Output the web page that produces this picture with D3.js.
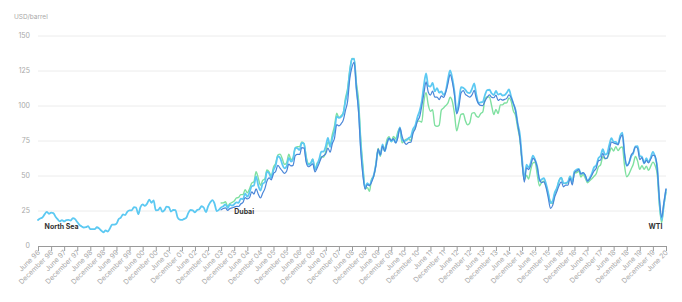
<!DOCTYPE html>
<html><head><meta charset="utf-8">
<script src="https://cdn.jsdelivr.net/npm/d3@7"></script>
<style>
html,body{margin:0;padding:0;background:#fff;}
svg{display:block;font-family:Inter,"Open Sans",sans-serif;}
</style></head><body>
<svg id="chart" width="682" height="302"></svg>
<script>
// Monthly averages, USD/barrel
const northSeaStart = "1996-06";
const northSea = [
18.6,19.7,20.3,22.6,24.4,23.0,23.8,
23.5,20.9,19.2,17.6,18.5,17.6,18.5,18.6,18.2,19.9,19.2,17.1,
15.1,14.0,13.2,13.4,14.2,12.1,12.0,12.0,13.4,12.6,11.0,9.8,
11.1,10.3,12.5,15.2,15.3,15.9,19.1,20.3,22.5,22.1,24.6,25.5,
25.5,27.8,27.5,22.7,27.7,29.8,28.7,30.2,33.1,30.9,32.5,25.5,
25.6,27.5,24.5,25.6,28.1,27.8,24.6,25.8,25.7,20.5,18.9,18.6,
19.4,20.3,23.7,25.7,25.4,24.1,25.7,26.3,28.4,27.5,24.2,28.3,
31.2,32.8,30.3,25.0,25.8,27.6,28.4,29.8,27.1,29.6,28.8,29.8,
31.2,30.9,33.8,33.4,37.6,35.2,38.2,42.7,43.2,49.8,43.1,39.6,
44.5,45.5,53.1,51.9,48.7,54.3,57.5,64.1,62.9,58.5,55.5,56.8,
63.0,60.2,62.1,70.3,69.8,68.6,73.7,73.2,62.0,58.0,58.8,62.0,
54.5,58.0,62.1,67.4,67.5,71.3,77.2,70.8,77.1,82.3,92.5,91.5,
92.2,94.8,103.3,110.4,124.6,133.5,133.9,113.0,98.1,72.3,53.2,41.6,
44.9,43.2,46.8,50.8,57.9,68.6,64.9,72.5,67.7,73.2,77.0,74.7,
76.2,73.8,78.8,84.8,75.9,74.8,75.6,77.1,78.2,83.5,86.1,92.0,
96.5,103.7,114.6,123.3,114.5,113.9,116.5,110.4,112.8,109.5,110.5,107.9,
110.7,119.3,125.5,119.8,110.3,95.2,102.6,113.4,113.0,111.5,109.5,109.2,
112.3,116.1,108.5,102.3,102.6,102.9,107.9,111.3,111.6,109.1,107.8,110.8,
108.1,108.9,107.5,107.8,109.5,111.8,106.8,101.6,97.1,87.4,79.4,62.3,
47.8,58.1,55.9,59.5,64.6,61.5,56.6,46.5,47.6,48.4,44.3,38.0,
30.7,32.2,38.2,41.6,46.7,48.8,44.7,45.0,45.9,49.7,45.7,53.3,
54.6,55.0,51.6,52.3,50.3,46.4,48.5,51.7,56.2,57.5,62.7,64.4,
69.1,65.3,66.0,72.1,77.0,74.4,74.3,72.5,78.9,81.0,64.8,57.4,
59.4,64.0,66.1,71.2,71.3,64.2,63.9,59.0,62.8,59.7,63.2,67.3,
63.6,55.7,32.0,18.4,29.4,40.3];

const dubaiStart = "2003-06";
const dubai = [
25.8,26.8,27.3,25.4,26.7,27.2,27.8,
28.3,28.2,30.0,31.1,34.6,33.6,34.5,38.7,37.1,40.8,37.0,34.3,
37.7,41.0,46.2,48.6,47.3,51.7,53.2,57.6,55.6,53.6,51.9,53.4,
58.5,57.2,57.6,64.6,65.4,65.4,70.3,69.9,59.7,56.6,57.5,58.6,
52.9,55.7,59.1,63.1,64.5,66.0,70.0,67.0,73.2,77.1,86.7,85.8,
87.3,90.1,96.7,103.5,119.5,127.8,131.2,112.9,95.5,67.7,49.9,40.5,
43.9,43.1,45.6,50.1,57.6,69.4,65.0,71.4,67.7,73.2,76.9,75.4,
76.7,73.6,76.9,84.2,78.3,74.2,72.6,73.9,74.1,80.5,83.8,89.2,
92.3,100.3,108.7,117.2,110.0,107.8,110.6,106.3,106.4,104.6,107.3,106.2,
109.9,116.2,122.5,117.2,107.9,94.4,99.0,109.3,111.0,108.3,107.2,106.3,
107.9,111.1,105.5,101.7,100.4,100.3,103.5,106.1,107.9,106.3,105.9,107.7,
104.0,105.0,104.2,104.7,105.5,107.9,105.9,101.9,96.5,86.8,76.4,60.2,
45.6,55.9,54.6,57.6,62.6,61.1,56.2,47.7,45.3,45.8,41.8,34.6,
26.9,29.0,35.1,39.1,43.3,45.8,42.3,43.5,43.4,48.4,43.6,52.3,
53.6,54.5,51.4,52.4,50.6,46.4,47.7,50.6,53.6,55.6,60.9,61.4,
66.2,62.6,62.8,68.3,74.3,73.6,73.1,72.4,77.1,79.4,65.6,57.3,
59.1,65.0,66.8,70.9,69.8,61.7,63.1,59.1,61.1,59.4,62.1,64.9,
64.3,54.2,33.7,20.4,30.5,40.8];

const wtiStart = "2003-06";
const wti = [
30.7,30.8,31.6,28.3,30.3,31.1,32.1,
34.3,34.7,36.7,36.7,40.3,38.0,40.7,44.9,45.9,53.1,48.5,43.3,
46.8,48.0,54.3,53.0,49.8,56.3,59.0,65.0,65.6,62.4,58.3,59.4,
65.5,61.6,62.9,69.7,70.9,71.0,74.4,73.0,63.8,58.9,59.1,62.0,
54.5,59.3,60.4,63.9,63.5,67.5,74.1,72.4,79.9,85.8,94.8,91.7,
93.0,95.4,105.5,112.6,125.4,133.9,133.4,116.7,104.1,76.6,57.3,41.1,
41.7,39.1,47.9,49.7,59.0,69.6,64.1,71.1,69.4,75.7,78.0,74.5,
78.3,76.4,81.2,84.3,73.7,75.3,76.3,76.6,75.2,81.9,84.3,89.2,
89.2,88.6,102.9,109.5,100.9,96.3,97.3,86.3,85.5,86.3,97.2,98.6,
100.3,102.2,106.2,103.3,94.7,82.3,87.9,94.1,94.5,89.5,86.5,87.9,
94.8,95.3,92.9,92.0,94.5,95.8,104.6,106.6,106.3,100.5,93.9,97.6,
94.6,100.8,100.8,102.1,102.2,105.8,103.6,96.5,93.2,84.4,75.8,59.3,
47.2,50.6,47.8,54.5,59.3,59.8,50.9,42.9,45.5,46.2,42.4,37.2,
31.7,30.3,37.5,40.8,46.7,48.8,44.7,44.7,45.2,49.8,45.7,52.0,
52.5,53.5,49.3,51.1,48.5,45.2,46.6,48.0,49.8,51.6,56.6,57.9,
63.7,62.2,62.7,66.3,70.0,67.9,71.0,68.1,70.2,70.8,57.0,49.5,
51.4,55.0,58.2,63.9,60.8,54.7,57.4,54.8,57.0,54.0,57.0,59.9,
57.5,50.5,29.2,16.6,28.5,38.3];

const yTicks = [0, 25, 50, 75, 100, 125, 150];
const tickMonthNames = {5: "June", 11: "December"};
const axisStart = "1996-06", axisEnd = "2020-06";
const seriesLabels = ["North Sea", "Dubai", "WTI"];

const parse = d3.timeParse("%Y-%m");
function toPoints(start, vals) {
  const s = parse(start);
  return vals.map((v, i) => ({date: d3.timeMonth.offset(s, i), value: v}));
}
const series = [
  {name: "WTI", color: "#7fe0a0", width: 1.4, pts: toPoints(wtiStart, wti)},
  {name: "North Sea", color: "#5cc9f2", width: 1.8, pts: toPoints(northSeaStart, northSea)},
  {name: "Dubai", color: "#4a86d8", width: 1.2, pts: toPoints(dubaiStart, dubai)}
];

const svg = d3.select("#chart");
const x = d3.scaleTime().domain([parse(axisStart), parse(axisEnd)]).range([38, 666]);
const y = d3.scaleLinear().domain([0, 150]).range([246, 36]);

// gridlines
svg.append("g").selectAll("line").data(yTicks.filter(d => d > 0)).join("line")
  .attr("x1", 38).attr("x2", 666)
  .attr("y1", d => y(d)).attr("y2", d => y(d))
  .attr("stroke", "#ececec").attr("stroke-width", 1);

// y axis labels
svg.append("g").selectAll("text").data(yTicks).join("text")
  .attr("x", 30).attr("y", d => y(d)).attr("dy", "0.35em")
  .attr("text-anchor", "end").attr("font-size", 7).attr("fill", "#a8a8a8")
  .text(d => d);

svg.append("text").attr("x", 14).attr("y", 19).attr("font-size", 6.5)
  .attr("fill", "#a8a8a8").text("USD/barrel");

// x axis
const tickDates = d3.timeMonth.range(parse(axisStart), d3.timeMonth.offset(parse(axisEnd), 1))
  .filter(d => d.getMonth() === 5 || d.getMonth() === 11);
const fmtYear = d3.timeFormat("%y");
const xAxis = d3.axisBottom(x).tickValues(tickDates).tickSize(5).tickFormat(d => tickMonthNames[d.getMonth()] + " " + fmtYear(d));
const gx = svg.append("g").attr("transform", `translate(0,${y(0)})`).call(xAxis);
gx.select(".domain").attr("stroke", "#9a9a9a").attr("stroke-width", 1);
gx.selectAll(".tick line").attr("stroke", "#9a9a9a");
gx.selectAll(".tick text")
  .attr("font-size", 7).attr("fill", "#a8a8a8").attr("font-family", "Inter, 'Open Sans', sans-serif")
  .attr("text-anchor", "end").attr("dy", null).attr("y", 0)
  .attr("transform", "translate(2,7) rotate(-45)");

// lines
const line = d3.line().x(d => x(d.date)).y(d => y(d.value)).curve(d3.curveMonotoneX);
svg.append("g").selectAll("path").data(series).join("path")
  .attr("d", d => line(d.pts)).attr("fill", "none")
  .attr("stroke", d => d.color).attr("stroke-width", d => d.width)
  .attr("stroke-linejoin", "round").attr("stroke-linecap", "round");

// annotations
const ann = [
  {t: seriesLabels[0], x: x(parse("1996-09")), y: y(12)},
  {t: seriesLabels[1], x: x(parse("2003-12")), y: y(23)},
  {t: seriesLabels[2], x: x(parse("2019-10")), y: y(12)}
];
svg.append("g").selectAll("text").data(ann).join("text")
  .attr("x", d => d.x).attr("y", d => d.y).attr("font-size", 7)
  .attr("font-weight", "bold").attr("fill", "#333").text(d => d.t);
</script>
</body></html>
